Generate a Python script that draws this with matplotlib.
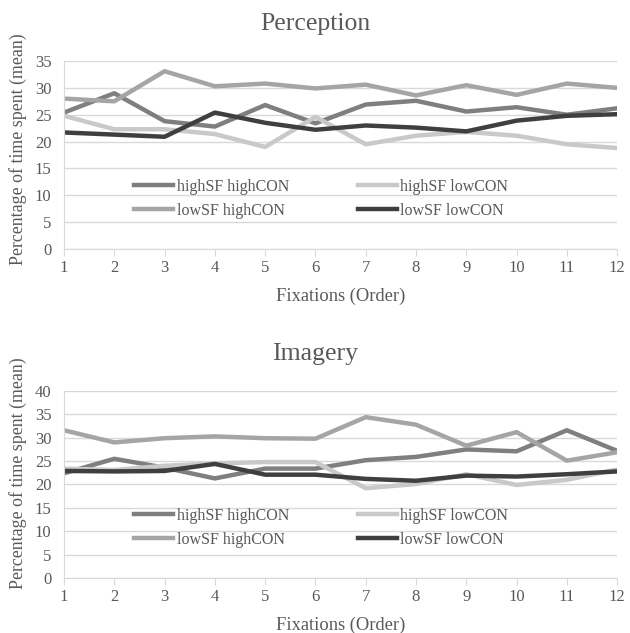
import matplotlib
matplotlib.use('Agg')
import matplotlib.pyplot as plt

plt.rcParams['font.family'] = ['Liberation Serif', 'DejaVu Serif']

fixations = list(range(1, 13))
series_names = ["highSF highCON", "highSF lowCON", "lowSF highCON", "lowSF lowCON"]
colors = ["#7f7f7f", "#c9c9c9", "#a5a5a5", "#3f3f3f"]

# Perception (top chart)
perc_hh = [25.4, 29.0, 23.8, 22.8, 26.8, 23.4, 26.9, 27.6, 25.6, 26.4, 25.0, 26.2]
perc_hl = [24.8, 22.3, 22.3, 21.4, 19.0, 24.6, 19.5, 21.1, 21.8, 21.1, 19.5, 18.8]
perc_lh = [28.0, 27.5, 33.1, 30.3, 30.8, 29.9, 30.6, 28.6, 30.5, 28.7, 30.8, 30.0]
perc_ll = [21.7, 21.3, 20.9, 25.4, 23.5, 22.2, 23.0, 22.6, 21.9, 23.9, 24.8, 25.1]

# Imagery (bottom chart)
imag_hh = [22.4, 25.5, 23.6, 21.3, 23.4, 23.4, 25.2, 25.9, 27.5, 27.1, 31.6, 27.2]
imag_hl = [23.4, 23.1, 24.0, 24.5, 24.8, 24.8, 19.2, 20.1, 22.2, 19.9, 21.0, 23.2]
imag_lh = [31.6, 29.0, 29.9, 30.3, 29.9, 29.8, 34.4, 32.8, 28.3, 31.2, 25.1, 26.9]
imag_ll = [22.9, 22.8, 22.9, 24.4, 22.1, 22.1, 21.2, 20.8, 21.9, 21.7, 22.2, 22.8]

fig = plt.figure(figsize=(6.3, 6.33), dpi=100)
ax1 = fig.add_axes([0.1016, 0.6066, 0.878, 0.297])
ax2 = fig.add_axes([0.1016, 0.0869, 0.878, 0.2954])


def draw(ax, data, title, ymax, ylab_y):
    lines = []
    for vals, name, c in zip(data, series_names, colors):
        ln, = ax.plot(fixations, vals, color=c, linewidth=3.2, label=name)
        lines.append(ln)
    ax.set_xlim(1, 12)
    ax.set_ylim(0, ymax)
    ax.set_xticks(fixations)
    ax.set_yticks(range(0, ymax + 1, 5))
    ax.grid(axis='y', color='#d9d9d9', linewidth=1)
    ax.set_axisbelow(True)
    for s in ['top', 'right']:
        ax.spines[s].set_visible(False)
    ax.spines['left'].set_color('#d9d9d9')
    ax.spines['bottom'].set_color('#d9d9d9')
    ax.tick_params(axis='y', length=0, labelsize=12, labelcolor='#595959', pad=9)
    ax.tick_params(axis='x', length=5, color='#d9d9d9', labelsize=12, labelcolor='#595959', pad=3)
    # title is centred on the whole chart area, not on the plot
    ax.set_title(title, fontsize=18.5, color='#595959', pad=22, x=0.454)
    ax.set_xlabel("Fixations (Order)", fontsize=13.3, color='#595959', labelpad=8)
    ax.set_ylabel("Percentage of time spent (mean)", fontsize=12.9, color='#595959')
    ax.yaxis.set_label_coords(-0.067, ylab_y)
    # legend filled column-wise, so reorder to get two rows of two
    order = [0, 2, 1, 3]
    ax.legend([lines[i] for i in order], [series_names[i] for i in order],
              ncol=2, loc='upper left', bbox_to_anchor=(0.127, 0.375), frameon=False,
              fontsize=11.5, labelcolor='#595959', handlelength=2.45, handletextpad=0.2,
              columnspacing=4.3, borderaxespad=0, borderpad=0, labelspacing=0.5)


draw(ax1, [perc_hh, perc_hl, perc_lh, perc_ll], "Perception", 35, 0.53)
draw(ax2, [imag_hh, imag_hl, imag_lh, imag_ll], "Imagery", 40, 0.56)

fig.savefig("out.png", dpi=100)
